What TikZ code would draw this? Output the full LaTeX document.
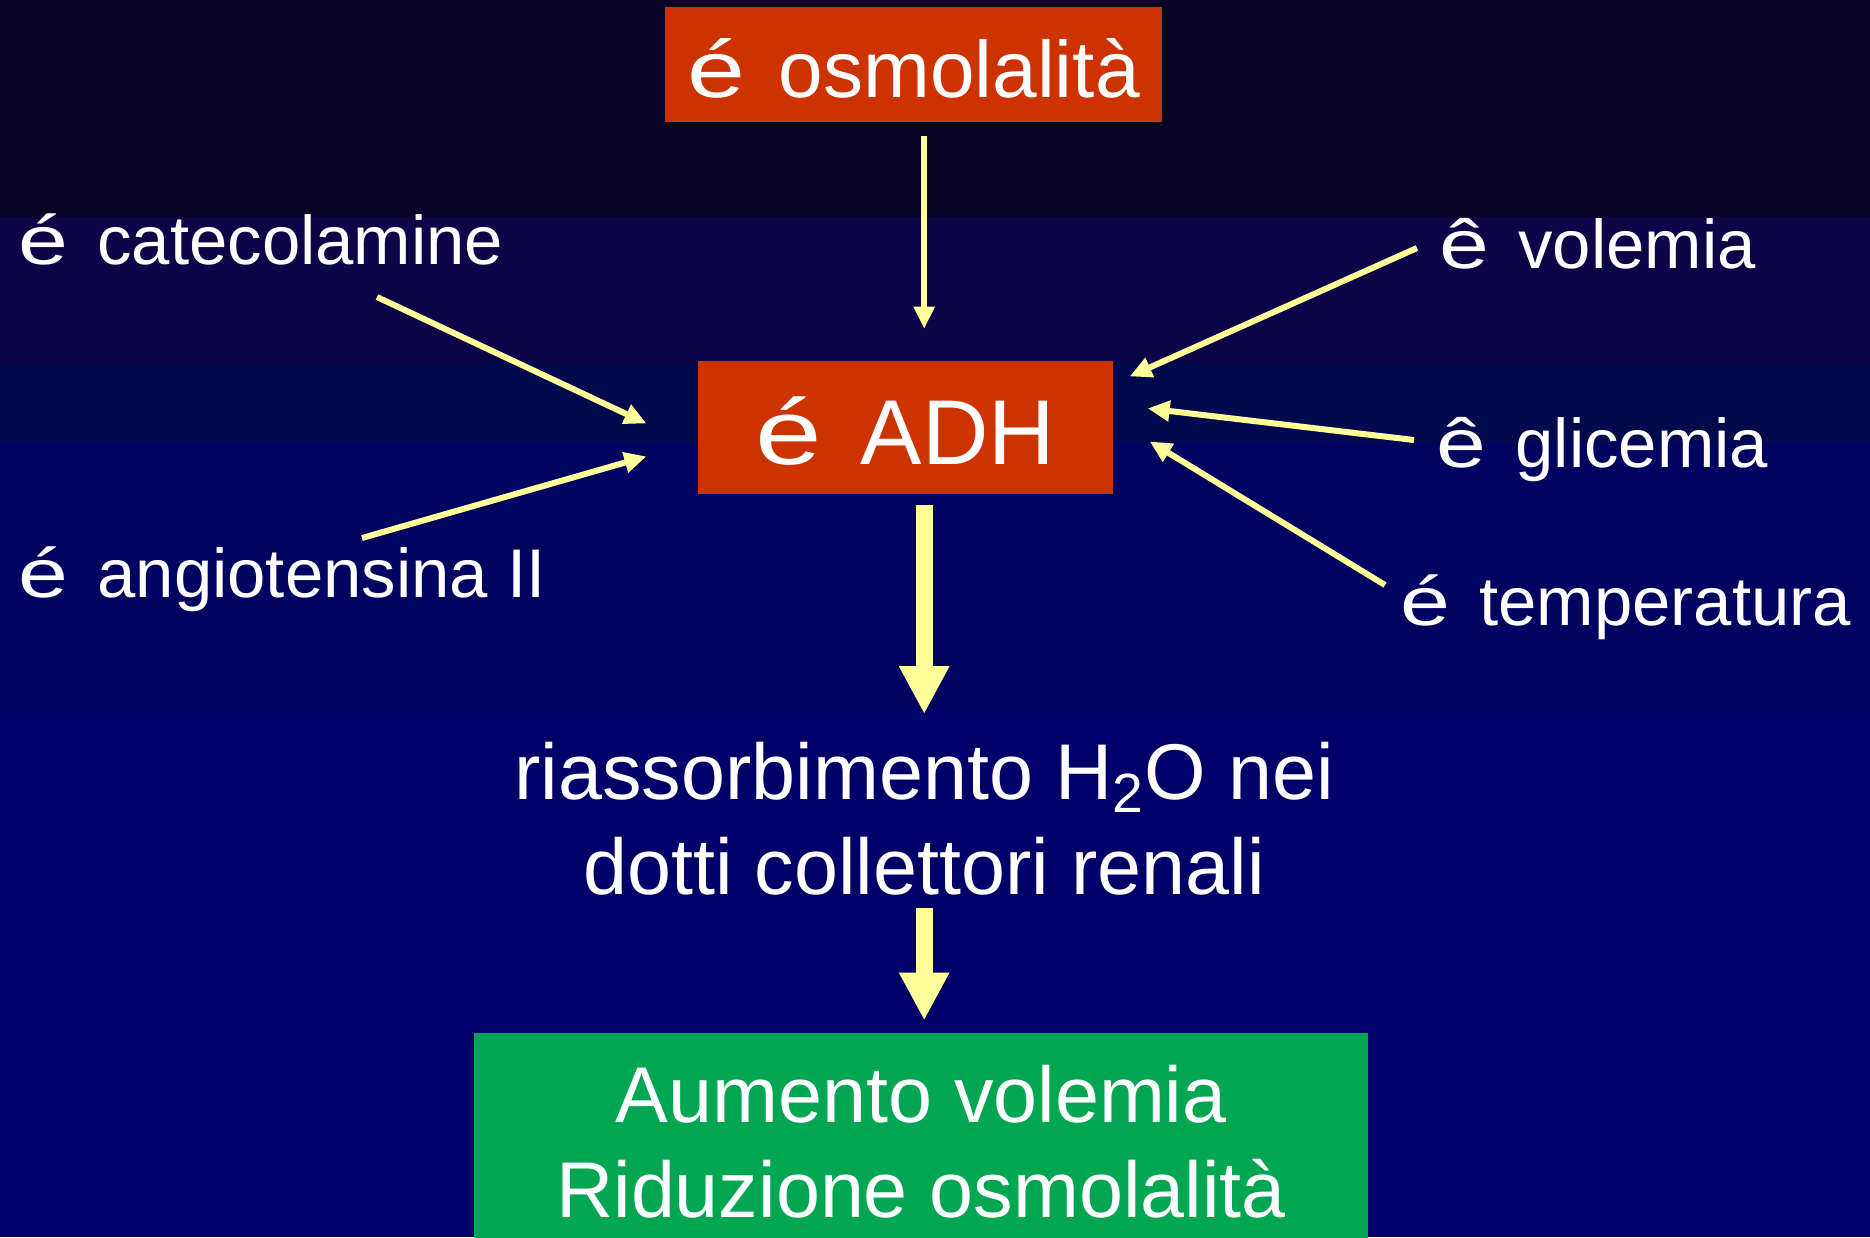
\documentclass[tikz,border=0pt]{standalone}
\usepackage{fontspec}
\setmainfont{Liberation Sans}
\usetikzlibrary{positioning,arrows.meta}

\definecolor{bandA}{RGB}{10,4,38}
\definecolor{bandB}{RGB}{14,4,72}
\definecolor{bandC}{RGB}{2,10,78}
\definecolor{bandD}{RGB}{0,4,96}
\definecolor{bandE}{RGB}{0,0,104}
\definecolor{slideRed}{RGB}{204,51,0}
\definecolor{slideGreen}{RGB}{0,166,81}
\definecolor{arrowYellow}{RGB}{255,255,153}

\newcommand{\sidefont}{\fontsize{19.6pt}{23.5pt}\selectfont}
\newcommand{\midfont}{\fontsize{22.5pt}{27pt}\selectfont}
\newcommand{\osmfont}{\fontsize{22.8pt}{27pt}\selectfont}
\newcommand{\adhfont}{\fontsize{26.2pt}{31pt}\selectfont}
\newcommand{\markchar}[1]{\scalebox{1.3}[1]{#1}\hspace{0.42em}}

\begin{document}
\begin{tikzpicture}[
        redbox/.style={fill=slideRed, text=white, inner sep=0pt, text depth=0pt},
        greenbox/.style={fill=slideGreen, text=white, inner xsep=0pt, inner ysep=3.2mm, align=center, font=\midfont},
        side/.style={text=white, inner sep=0pt, anchor=base west, font=\sidefont},
        thinarrow/.style={draw=arrowYellow, line width=0.6mm, -{Triangle[length=2.2mm, width=2mm]}},
        fatarrow/.style={draw=arrowYellow, line width=1.7mm, -{Triangle[length=4.8mm, width=4.7mm]}}
    ]
        % background bands
        \path[use as bounding box, clip] (0,0) rectangle (18.70,-12.37);
        \foreach \ytop/\ybot/\band in {0/2.17/bandA, 2.17/3.63/bandB, 3.63/4.42/bandC, 4.42/7.10/bandD, 7.10/12.37/bandE}
            \fill[\band] (0,-\ytop) rectangle (18.70,-\ybot);

        % main column
        \node[redbox, font=\osmfont, text height=6.5mm, minimum width=4.97cm, minimum height=1.15cm] (osm) at (9.135,-0.645) {\markchar{é}osmolalità};
        \node[redbox, font=\adhfont, text height=7.3mm, minimum width=4.15cm, minimum height=1.33cm, below=2.38cm of osm, xshift=-0.083cm] (adh) {\markchar{é}ADH};
        \node[text=white, inner sep=0pt, align=center, font=\midfont, below=2.46cm of adh, xshift=0.19cm] (riass) {riassorbimento H\textsubscript{2}O nei\\dotti collettori renali};
        \node[greenbox, minimum width=8.94cm, below=1.37cm of riass, xshift=-0.03cm] (green) {Aumento volemia\\Riduzione osmolalità};

        % side factors
        \foreach \name/\pos/\content in {
                cat/{0.18,-2.64}/{\markchar{é}catecolamine},
                ang/{0.18,-5.97}/{\markchar{é}angiotensina II},
                vol/{14.39,-2.68}/{\markchar{ê}volemia},
                gli/{14.36,-4.67}/{\markchar{ê}glicemia},
                tem/{14.00,-6.25}/{\markchar{é}temperatura}
                } {
            \node[side] (\name) at (\pos) {\content};
        }

        \draw[thinarrow, shorten <=1.3mm, shorten >=3.2mm] (osm.south -| riass.north) -- (adh.north -| riass.north);
        \foreach \src/\sx/\sy/\anc/\tx/\ty in {
                cat/35.9/-3.3/west/-5.06/0.45,
                ang/34.4/5.9/west/-5.06/-2.85,
                vol/-2.2/2.0/east/1.63/5.15,
                gli/-2.2/2.7/east/3.43/1.95,
                tem/-1.5/4.0/east/3.63/-1.35
                } {
            \draw[thinarrow] ([xshift=\sx mm, yshift=\sy mm]\src.base west) -- ([xshift=\tx mm, yshift=\ty mm]adh.\anc);
        }
        \draw[fatarrow, shorten <=1mm, shorten >=2.7mm] (adh.south -| riass.north) -- (riass.north);
        \draw[fatarrow, shorten <=1.2mm, shorten >=1.2mm] (riass.south) -- (riass.south |- green.north);
\end{tikzpicture}
\end{document}
